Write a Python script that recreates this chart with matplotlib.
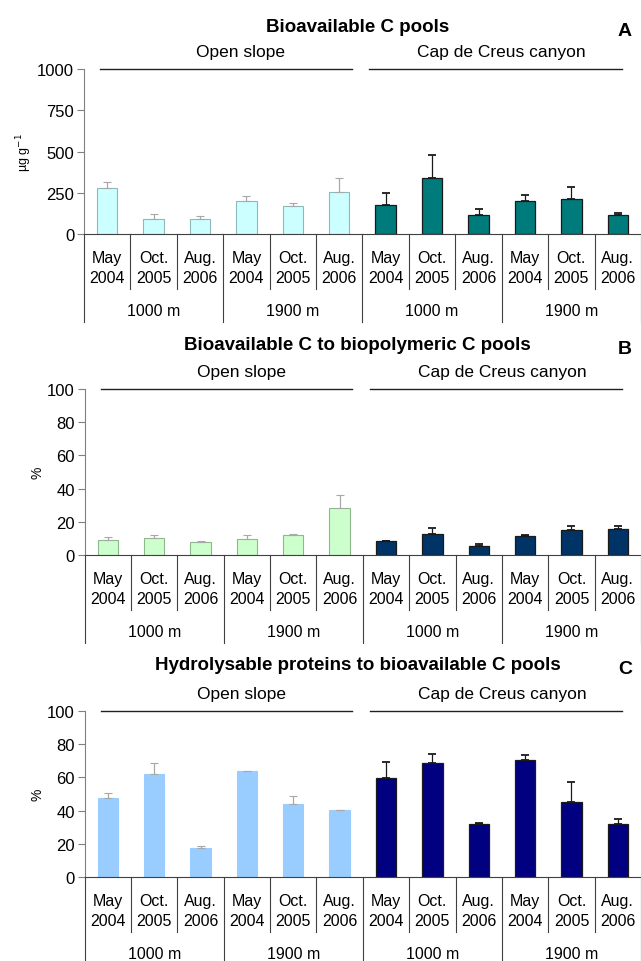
import matplotlib.pyplot as plt
import numpy as np

plt.rcParams['font.family'] = ['Liberation Sans', 'DejaVu Sans']

# ------------------ DATA ------------------
meses = ["May", "Oct.", "Aug."] * 4
anios = ["2004", "2005", "2006"] * 4
profundidades = ["1000 m", "1900 m", "1000 m", "1900 m"]
grupos = ["Open slope", "Cap de Creus canyon"]

# Panel A: bioavailable C pools (ug g-1)
bio_c = [277, 91, 91, 200, 168, 253, 178, 341, 113, 200, 214, 113]
bio_c_err = [40, 30, 20, 32, 20, 86, 68, 140, 39, 36, 71, 16]

# Panel B: bioavailable C to biopolymeric C (%)
bio_bpc = [9.1, 10.1, 8.0, 9.7, 12.1, 28.4, 8.2, 12.9, 5.4, 11.3, 14.9, 15.9]
bio_bpc_err = [2.0, 1.8, 0.5, 2.2, 0.8, 7.8, 0.2, 3.6, 1.2, 0.8, 2.6, 1.6]

# Panel C: hydrolysable proteins to bioavailable C (%)
prt_bio = [47.4, 62.0, 17.3, 63.7, 43.8, 40.2, 59.4, 68.9, 31.9, 70.7, 45.2, 31.9]
prt_bio_err = [3.0, 6.9, 1.4, 0.2, 5.2, 0.1, 9.9, 5.4, 0.6, 3.0, 11.8, 3.0]

paneles = [
    dict(titulo="Bioavailable C pools", letra="A", valores=bio_c, errores=bio_c_err,
         ymax=1000, yticks=[0, 250, 500, 750, 1000], ylabel=r"µg g$^{-1}$",
         claro="#ccffff", borde_claro="#8fb8b8", oscuro="#007b7b"),
    dict(titulo="Bioavailable C to biopolymeric C pools", letra="B", valores=bio_bpc,
         errores=bio_bpc_err, ymax=100, yticks=[0, 20, 40, 60, 80, 100], ylabel="%",
         claro="#ccffcc", borde_claro="#8fb88f", oscuro="#003366"),
    dict(titulo="Hydrolysable proteins to bioavailable C pools", letra="C", valores=prt_bio,
         errores=prt_bio_err, ymax=100, yticks=[0, 20, 40, 60, 80, 100], ylabel="%",
         claro="#99ccff", borde_claro="#99ccff", oscuro="#000080"),
]

# posiciones de los ejes en fracciones de la figura (izq, abajo, ancho, alto)
posiciones = [
    [0.131, 0.7557, 0.869, 0.1715],
    [0.132, 0.4220, 0.868, 0.1726],
    [0.132, 0.0873, 0.868, 0.1726],
]
titulo_y = [27, 346, 665]
letra_y = [31, 350, 670]
grupo_y = [52, 373, 694]

fig = plt.figure(figsize=(6.41, 9.62), dpi=100)
H = 962.0
gris = "#808080"

for p, pos, ty, ly, gy in zip(paneles, posiciones, titulo_y, letra_y, grupo_y):
    ax = fig.add_axes(pos)
    x = np.arange(12)
    vals = np.array(p["valores"])
    errs = np.array(p["errores"])
    alto_px = pos[3] * H

    # barras de open slope
    ax.bar(x[:6], vals[:6], width=0.44, color=p["claro"], edgecolor=p["borde_claro"],
           linewidth=0.8, yerr=[np.zeros(6), errs[:6]],
           error_kw=dict(ecolor="#a8a8a8", elinewidth=0.9, capsize=3, capthick=0.8))
    # barras del cañón
    ax.bar(x[6:], vals[6:], width=0.44, color=p["oscuro"], edgecolor="#1a1a1a",
           linewidth=0.9, yerr=[np.zeros(6), errs[6:]],
           error_kw=dict(ecolor="#1a1a1a", elinewidth=0.9, capsize=3, capthick=1.3))

    ax.set_xlim(-0.5, 11.5)
    ax.set_ylim(0, p["ymax"])
    ax.set_yticks(p["yticks"])
    ax.set_xticks([])
    for s in ["top", "right"]:
        ax.spines[s].set_visible(False)
    ax.spines["left"].set_color(gris)
    ax.spines["bottom"].set_color("#404040")
    ax.tick_params(axis="y", direction="out", length=5, color=gris, labelsize=12, pad=2)

    tr = ax.get_xaxis_transform()
    px = lambda d: -d / alto_px  # pixeles por debajo del cero -> fraccion de ejes

    # etiquetas de meses y separadores
    for i in range(12):
        ax.text(i, px(23), meses[i], transform=tr, ha="center", va="center", fontsize=11.5)
        ax.text(i, px(43), anios[i], transform=tr, ha="center", va="center", fontsize=11.5)
    for b in range(13):
        largo = 88 if b % 3 == 0 else 55
        ax.plot([b - 0.5, b - 0.5], [0, px(largo)], transform=tr, color="#404040",
                lw=0.8, clip_on=False)
    for k, d in enumerate(profundidades):
        ax.text(3 * k + 1, px(76), d, transform=tr, ha="center", va="center", fontsize=11.5)

    # lineas y etiquetas de grupos
    ax.plot([-0.15, 5.27], [1, 1], transform=tr, color="#202020", lw=1.0, clip_on=False)
    ax.plot([5.65, 11.1], [1, 1], transform=tr, color="#202020", lw=1.0, clip_on=False)
    tope_px = (1 - pos[1] - pos[3]) * H
    gy_ax = 1 + (tope_px - gy) / alto_px
    ax.text(2.88, gy_ax, grupos[0], transform=tr, ha="center", va="center", fontsize=12.5)
    ax.text(8.5, gy_ax, grupos[1], transform=tr, ha="center", va="center", fontsize=12.5)

    ax.set_ylabel(p["ylabel"], fontsize=9 if p["letra"] == "A" else 10, labelpad=2)

    fig.text(0.558, 1 - ty / H, p["titulo"], ha="center", va="center",
             fontsize=13.5, fontweight="bold")
    fig.text(625 / 641, 1 - ly / H, p["letra"], ha="center", va="center",
             fontsize=14, fontweight="bold")

fig.savefig("out.png", dpi=100)
